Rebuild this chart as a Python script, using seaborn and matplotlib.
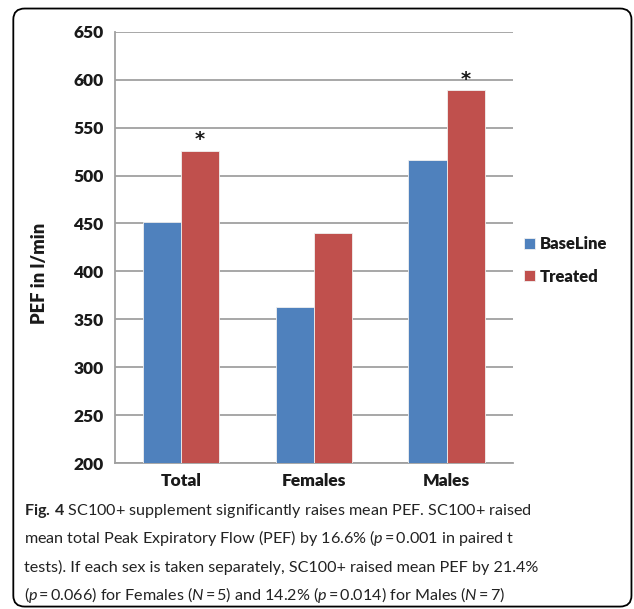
import matplotlib
matplotlib.use("Agg")
import matplotlib.pyplot as plt
import seaborn as sns
import pandas as pd
from matplotlib.patches import FancyBboxPatch

# values
groups = ["Total", "Females", "Males"]
baseline = [452, 363, 516]
treated = [526, 440, 589]
conditions = ["BaseLine", "Treated"]
significant = [True, False, True]  # star above treated bar
y_ticks = [200, 250, 300, 350, 400, 450, 500, 550, 600, 650]

# tight "=" like the journal typesetting
EQ = r"$\,$=$\,$"
caption_lines = [
    r"$\bf{Fig.\,4}$ SC100+ supplement significantly raises mean PEF. SC100+ raised",
    r"mean total Peak Expiratory Flow (PEF) by 16.6% ($\it{p}$" + EQ + "0.001 in paired t",
    r"tests). If each sex is taken separately, SC100+ raised mean PEF by 21.4%",
    r"($\it{p}$" + EQ + r"0.066) for Females ($\it{N}$" + EQ + r"5) and 14.2% ($\it{p}$"
    + EQ + r"0.014) for Males ($\it{N}$" + EQ + "7)",
]

blue = "#4F81BD"
red = "#C0504D"
grid_grey = "#A0A0A0"
text_col = "#1a1a1a"

cap_font, cap_size = "Lato", 11.6

sns.set_style("white")
plt.rcParams["font.family"] = ["Lato", "DejaVu Sans"]
plt.rcParams["mathtext.fontset"] = "custom"
plt.rcParams["mathtext.rm"] = cap_font
plt.rcParams["mathtext.it"] = cap_font + ":italic"
plt.rcParams["mathtext.bf"] = cap_font + ":bold"

df = pd.DataFrame({
    "group": groups * 2,
    "pef": baseline + treated,
    "condition": [conditions[0]] * 3 + [conditions[1]] * 3,
})

fig = plt.figure(figsize=(6.34, 6.09), dpi=100)
ax = fig.add_axes([0.181, 0.2397, 0.628, 0.708])

sns.barplot(data=df, x="group", y="pef", hue="condition", palette=[blue, red],
            width=0.575, saturation=1, ax=ax, zorder=3, linewidth=0.6,
            edgecolor="#f0f0f0")

ax.set_ylim(200, 650)
ax.set_xlim(-0.5, 2.5)
ax.set_yticks(y_ticks)
ax.yaxis.grid(True, color=grid_grey, lw=1.3, zorder=0)
ax.set_axisbelow(True)
for s in ["top", "right"]:
    ax.spines[s].set_visible(False)
for s in ["left", "bottom"]:
    ax.spines[s].set_color(grid_grey)
    ax.spines[s].set_linewidth(1.3)
ax.tick_params(axis="y", length=5, color=grid_grey, width=1.3, labelsize=12.5,
               pad=3, labelcolor=text_col)
ax.tick_params(axis="x", which="major", length=0, labelsize=12.5, pad=7,
               labelcolor=text_col)
ax.set_xticks([-0.5, 0.5, 1.5, 2.5], minor=True)
ax.tick_params(axis="x", which="minor", length=5, color=grid_grey, width=1.3)
for lab in ax.get_xticklabels() + ax.get_yticklabels():
    lab.set_fontweight("heavy")
ax.set_xlabel("")
ax.set_ylabel("PEF in l/min", fontsize=13.2, fontweight="heavy", color=text_col)
ax.yaxis.set_label_coords(-0.168, 0.44)

# significance stars over the treated bars
treated_bars = ax.containers[1]
for bar, val, sig in zip(treated_bars, treated, significant):
    if sig:
        ax.annotate("*", (bar.get_x() + bar.get_width() / 2, val),
                    xytext=(0, 1), textcoords="offset points",
                    ha="center", va="bottom", fontsize=14, fontweight="bold",
                    family="DejaVu Sans", color=text_col)

handles, labels = ax.get_legend_handles_labels()
ax.legend(handles, labels, loc="center left", bbox_to_anchor=(0.99, 0.47),
          frameon=False, prop={"weight": "heavy", "size": 12},
          handlelength=0.65, handleheight=0.65, handletextpad=0.3,
          labelspacing=1.0, labelcolor=text_col)

# caption
for i, line in enumerate(caption_lines):
    fig.text(0.038, 0.155 - i * 0.047, line, fontsize=cap_size, family=cap_font,
             ha="left", va="baseline", color="#222222")

# rounded frame around figure
frame = FancyBboxPatch((0.021, 0.004), 0.975, 0.982,
                       boxstyle="round,pad=0,rounding_size=0.018",
                       transform=fig.transFigure, fill=False,
                       edgecolor="black", lw=1.3)
fig.patches.append(frame)

fig.savefig("out.png", dpi=100)
